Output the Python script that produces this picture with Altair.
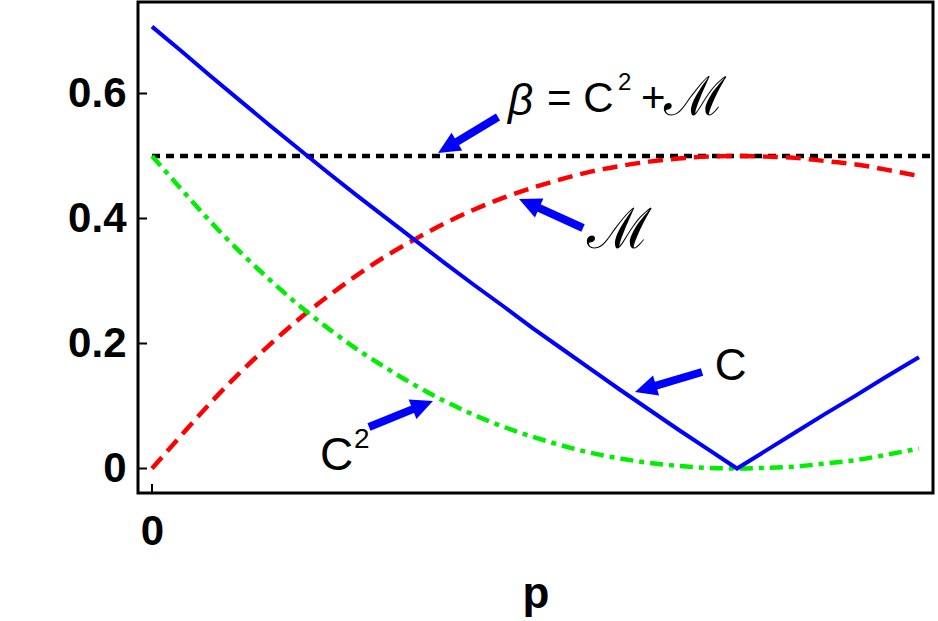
import altair as alt
import pandas as pd

# ---- data ----
p_vals = [0.0, 0.05, 0.1, 0.15, 0.2, 0.25, 0.3, 0.35, 0.4, 0.45, 0.5, 0.55, 0.6,
          0.65, 0.7, 0.75, 0.8, 0.85, 0.9, 0.95, 1.0, 1.05, 1.1, 1.15, 1.2, 1.25,
          1.3, 1.311]
c_vals = [0.707, 0.668, 0.628, 0.589, 0.550, 0.512, 0.474, 0.437, 0.401, 0.365,
          0.329, 0.294, 0.260, 0.225, 0.192, 0.159, 0.126, 0.094, 0.062, 0.031,
          0.0, 0.029, 0.058, 0.087, 0.115, 0.144, 0.172, 0.178]
c2_vals = [0.5, 0.447, 0.395, 0.347, 0.303, 0.262, 0.225, 0.191, 0.161, 0.133,
           0.108, 0.086, 0.067, 0.051, 0.037, 0.025, 0.016, 0.009, 0.004, 0.001,
           0.0, 0.001, 0.003, 0.008, 0.013, 0.021, 0.030, 0.032]
m_vals = [0.0, 0.053, 0.105, 0.153, 0.197, 0.238, 0.275, 0.309, 0.340, 0.367,
          0.392, 0.414, 0.433, 0.449, 0.463, 0.475, 0.484, 0.491, 0.496, 0.499,
          0.5, 0.499, 0.497, 0.492, 0.487, 0.479, 0.470, 0.468]
beta_p = [0.0, 1.335]
beta_vals = [0.5, 0.5]

y_ticks = [0, 0.2, 0.4, 0.6]
x_ticks = [0]

# annotation arrows: tail, shaft end, tip (data coordinates), head angle (deg)
arrow_tail_p = [0.5915, 0.7368, 0.9402, 0.3709]
arrow_tail_v = [0.5624, 0.3848, 0.1544, 0.0664]
arrow_end_p = [0.511, 0.6508, 0.8503, 0.4566]
arrow_end_v = [0.5171, 0.4213, 0.1293, 0.0990]
arrow_tip_p = [0.4889, 0.6274, 0.8256, 0.4803]
arrow_tip_v = [0.5048, 0.4312, 0.1224, 0.1080]
arrow_angle = [239, 294, 253, 68]

# annotation labels (upright pieces, superscripts as separate smaller pieces)
lab_text = ["= C", "2", "+", "ℳ", "ℳ", "C", "C", "2"]
lab_p = [0.6752, 0.7966, 0.836, 0.875, 0.744, 0.962, 0.287, 0.3453]
lab_v = [0.5704, 0.6056, 0.5704, 0.5656, 0.3528, 0.1416, -0.0024, 0.0328]
lab_size = [42, 24, 42, 54, 56, 44, 46, 28]
# italic beta
beta_text = ["β"]
beta_lab_p = [0.6085]
beta_lab_v = [0.5656]

XDOM = [-0.0239, 1.335]
YDOM = [-0.0392, 0.7464]
BLUE = "#0000ff"


def X(field="p"):
    return alt.X(f"{field}:Q",
                 scale=alt.Scale(domain=XDOM, nice=False, zero=False),
                 axis=alt.Axis(values=x_ticks, format="d", ticks=False, domain=False,
                               grid=False, labelFont="Liberation Sans", labelFontSize=42,
                               labelFontWeight="bold", labelPadding=18, labelColor="black",
                               title="p", titleFont="Liberation Sans", titleFontSize=44,
                               titleFontWeight="bold", titlePadding=20, titleColor="black"))


def Y(field="v"):
    return alt.Y(f"{field}:Q",
                 scale=alt.Scale(domain=YDOM, nice=False, zero=False),
                 axis=alt.Axis(values=y_ticks, format=".1~f", ticks=False, domain=False,
                               grid=False, labelFont="Liberation Sans", labelFontSize=42,
                               labelFontWeight="bold", labelPadding=12, labelColor="black",
                               title=None))


df_c = pd.DataFrame({"p": p_vals, "v": c_vals})
df_c2 = pd.DataFrame({"p": p_vals, "v": c2_vals})
df_m = pd.DataFrame({"p": p_vals, "v": m_vals})
df_b = pd.DataFrame({"p": beta_p, "v": beta_vals})

beta_line = alt.Chart(df_b).mark_line(color="black", strokeWidth=4.5, strokeDash=[8, 6],
                                      clip=True).encode(x=X(), y=Y())
m_line = alt.Chart(df_m).mark_line(color="#ff0000", strokeWidth=4.5, strokeDash=[15, 8],
                                   interpolate="monotone").encode(x=X(), y=Y())
c2_line = alt.Chart(df_c2).mark_line(color="#00ee00", strokeWidth=4.5,
                                     strokeDash=[13, 6, 5, 6],
                                     interpolate="monotone").encode(x=X(), y=Y())
c_line = alt.Chart(df_c).mark_line(color=BLUE, strokeWidth=4).encode(x=X(), y=Y())

df_ar = pd.DataFrame({"p": arrow_tail_p, "v": arrow_tail_v,
                      "p2": arrow_end_p, "v2": arrow_end_v})
shafts = alt.Chart(df_ar).mark_rule(color=BLUE, strokeWidth=8, strokeCap="butt").encode(
    x=X(), y=Y(), x2=alt.X2("p2"), y2=alt.Y2("v2"))

df_head = pd.DataFrame({"p": arrow_tip_p, "v": arrow_tip_v, "ang": arrow_angle})
heads = alt.Chart(df_head).mark_point(
    shape="M0,0L0.85,1.8L-0.85,1.8Z", filled=True, size=600, color=BLUE,
    opacity=1, strokeWidth=0).encode(
    x=X(), y=Y(), angle=alt.Angle("ang:Q", scale=None))

df_lab = pd.DataFrame({"p": lab_p, "v": lab_v, "t": lab_text, "fs": lab_size})
labels = alt.Chart(df_lab).mark_text(align="left", baseline="alphabetic",
                                     font="Liberation Sans", color="black").encode(
    x=X(), y=Y(), text="t:N", size=alt.Size("fs:Q", scale=None))

df_beta_lab = pd.DataFrame({"p": beta_lab_p, "v": beta_lab_v, "t": beta_text})
beta_label = alt.Chart(df_beta_lab).mark_text(
    align="left", baseline="alphabetic", font="Liberation Sans", fontStyle="italic",
    fontSize=44, color="black").encode(x=X(), y=Y(), text="t:N")

df_yt = pd.DataFrame({"v": y_ticks})
ytick_marks = alt.Chart(df_yt).mark_rule(color="black", strokeWidth=2).encode(
    y=Y(), x=alt.value(0), x2=alt.value(9))
df_xt = pd.DataFrame({"p": x_ticks})
xtick_marks = alt.Chart(df_xt).mark_rule(color="black", strokeWidth=2).encode(
    x=X(), y=alt.value(491), y2=alt.value(482))

chart = alt.layer(
    ytick_marks, xtick_marks, beta_line, m_line, c2_line, c_line, shafts, heads,
    labels, beta_label
).properties(
    width=795, height=491,
    autosize=alt.AutoSizeParams(type="none"),
    padding={"left": 138, "top": 2, "right": 5, "bottom": 128},
    background="white",
).configure_view(stroke="black", strokeWidth=3)

chart.save("out.html", embed_options={"renderer": "svg", "actions": False})
